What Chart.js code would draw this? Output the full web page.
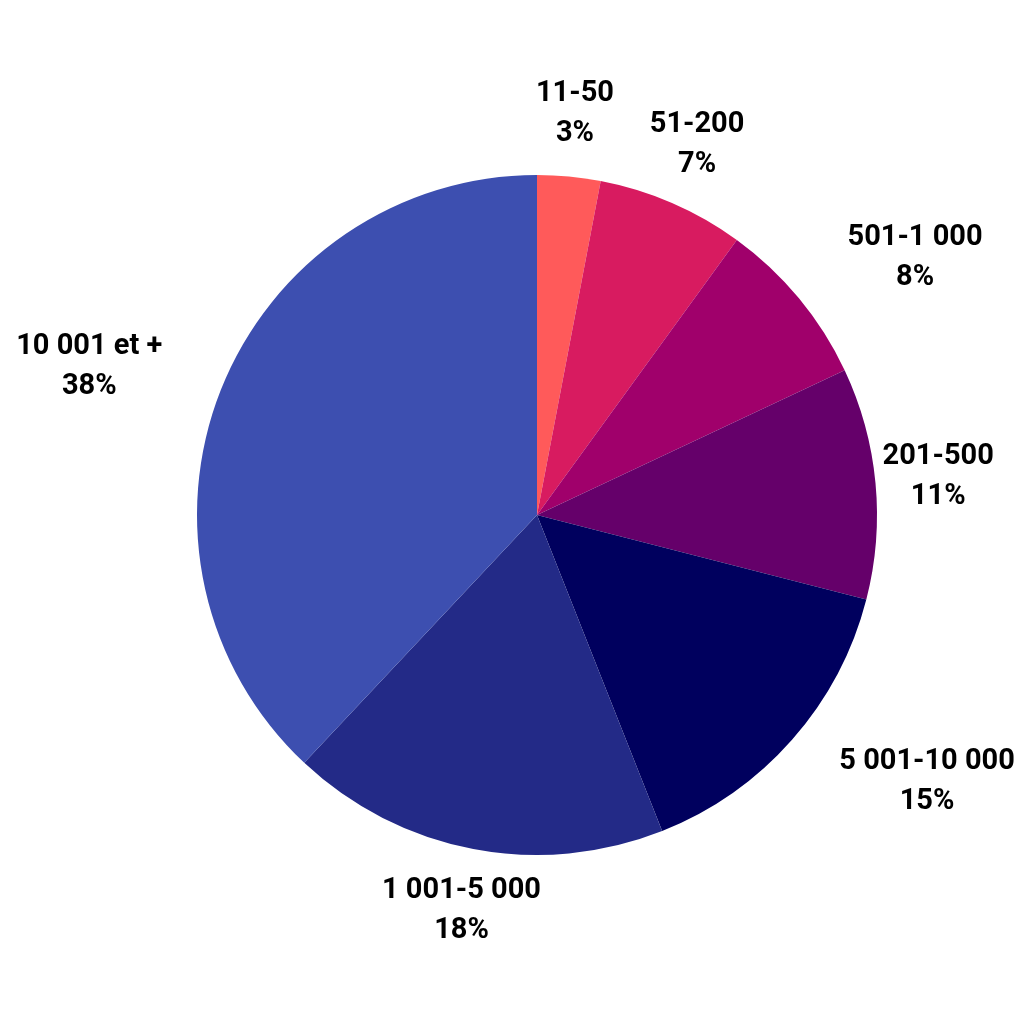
<!DOCTYPE html>
<html>
<head>
<meta charset="utf-8">
<script src="https://cdn.jsdelivr.net/npm/chart.js@4.4.1/dist/chart.umd.min.js"></script>
<style>
  html, body { margin: 0; padding: 0; background: #fff; }
  #wrap { width: 1024px; height: 1024px; }
</style>
</head>
<body>
<div id="wrap"><canvas id="pie"></canvas></div>
<script>
// ----- 데이터 -----
const categories = ['11-50', '51-200', '501-1 000', '201-500', '5 001-10 000', '1 001-5 000', '10 001 et +'];
const shares = [3, 7, 8, 11, 15, 18, 38];
const sliceColors = ['#FF5A5A', '#D81B60', '#A0006B', '#65006A', '#00005E', '#232A87', '#3D4FB0'];

// 바깥쪽 라벨 (이름 + %)
const outerLabels = {
  id: 'outerLabels',
  afterDatasetsDraw(chart) {
    const { ctx } = chart;
    const meta = chart.getDatasetMeta(0);
    const W = chart.width, margin = 8;
    ctx.save();
    ctx.font = 'bold 29px Roboto';
    ctx.fillStyle = '#000';
    ctx.textBaseline = 'middle';
    ctx.textAlign = 'center';
    meta.data.forEach((arc, i) => {
      const a = (arc.startAngle + arc.endAngle) / 2;
      const ux = Math.cos(a), uy = Math.sin(a);
      const d = arc.outerRadius + 63;
      const lines = [categories[i], shares[i] + '%'];
      const w = Math.max(...lines.map(s => ctx.measureText(s).width));
      let cx = arc.x + d * ux;
      const cy = arc.y + d * uy;
      // 대각선 방향 라벨은 앵커에서 바깥으로 붙임
      const ay = Math.abs(uy);
      if (ay > 0.2 && ay < 0.8) cx += Math.sign(ux) * w / 2;
      cx = Math.min(Math.max(cx, margin + w / 2), W - margin - w / 2);
      ctx.fillText(lines[0], cx, cy - 20);
      ctx.fillText(lines[1], cx, cy + 20);
    });
    ctx.restore();
  }
};

new Chart(document.getElementById('pie'), {
  type: 'pie',
  data: {
    labels: categories,
    datasets: [{
      data: shares,
      backgroundColor: sliceColors,
      borderWidth: 0
    }]
  },
  options: {
    animation: false,
    responsive: true,
    maintainAspectRatio: false,
    layout: { padding: { left: 197, right: 147, top: 175, bottom: 169 } },
    plugins: {
      legend: { display: false },
      tooltip: { enabled: false }
    }
  },
  plugins: [outerLabels]
});
</script>
</body>
</html>
